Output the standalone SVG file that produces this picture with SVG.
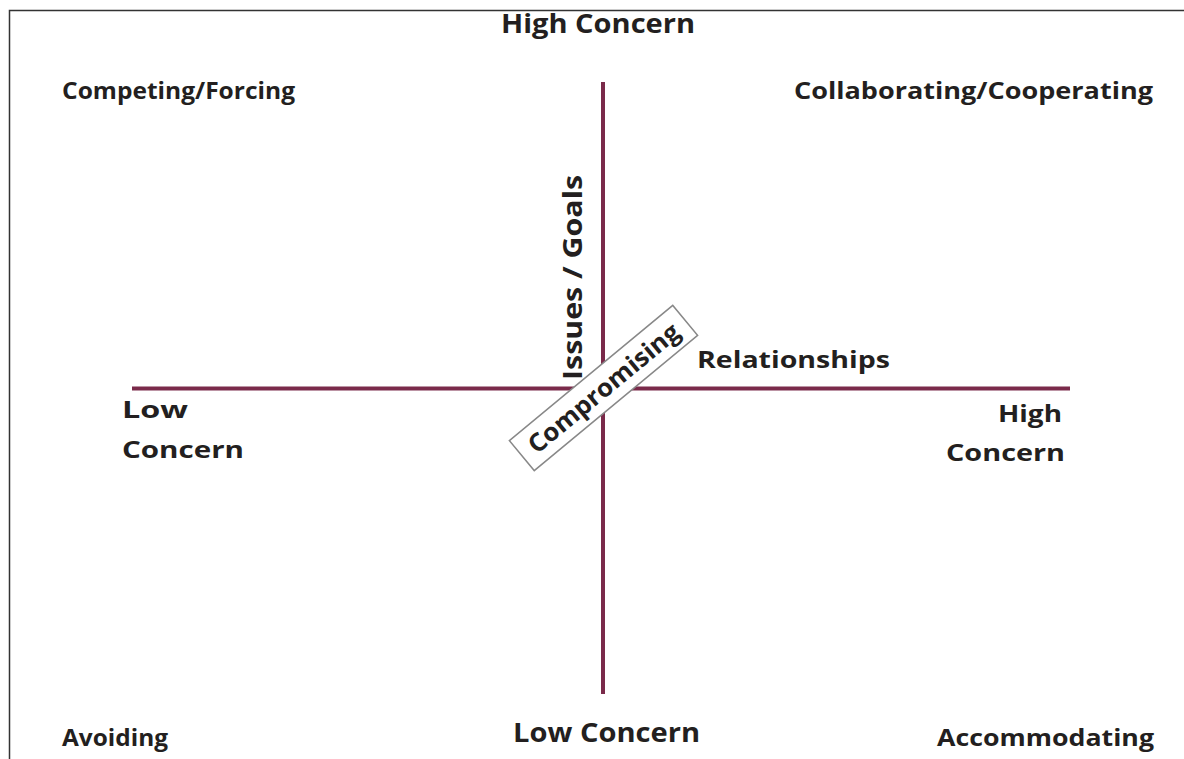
<svg xmlns="http://www.w3.org/2000/svg" width="1184" height="759" viewBox="0 0 1184 759">
<style>
.t{font-family:"Open Sans","DejaVu Sans",sans-serif;font-weight:700;fill:#231f20;font-size:24px}
.big{font-size:27px}
.axis{stroke:#7a2a4a;stroke-width:4;fill:none}
</style>
<rect x="0" y="0" width="1184" height="759" fill="#ffffff"/>
<path d="M9.5 759 V10.5 H1184" fill="none" stroke="#333" stroke-width="1.5"/>
<g id="connectors">
<line class="axis" x1="603" y1="82" x2="603" y2="694"/>
<line class="axis" x1="132" y1="388.5" x2="1070" y2="388.5"/>
</g>
<g id="high-top"><text class="t big" x="501" y="33" textLength="194" lengthAdjust="spacingAndGlyphs">High Concern</text></g>
<g id="low-bottom"><text class="t big" x="513" y="742" textLength="187" lengthAdjust="spacingAndGlyphs">Low Concern</text></g>
<g id="competing"><text class="t" x="62" y="99" textLength="233" lengthAdjust="spacingAndGlyphs">Competing/Forcing</text></g>
<g id="collaborating"><text class="t" x="794" y="99" textLength="359" lengthAdjust="spacingAndGlyphs">Collaborating/Cooperating</text></g>
<g id="avoiding"><text class="t" x="62" y="746" textLength="106" lengthAdjust="spacingAndGlyphs">Avoiding</text></g>
<g id="accommodating"><text class="t" x="937" y="746" textLength="217" lengthAdjust="spacingAndGlyphs">Accommodating</text></g>
<g id="issues"><text class="t big" transform="translate(582 380) rotate(-90)" textLength="205" lengthAdjust="spacingAndGlyphs">Issues / Goals</text></g>
<g id="relationships"><text class="t" x="697" y="368" textLength="193" lengthAdjust="spacingAndGlyphs">Relationships</text></g>
<g id="low-left"><text class="t" x="122" y="418" textLength="66" lengthAdjust="spacingAndGlyphs">Low</text><text class="t" x="122" y="458" textLength="122" lengthAdjust="spacingAndGlyphs">Concern</text></g>
<g id="high-right"><text class="t" x="998" y="422" textLength="64" lengthAdjust="spacingAndGlyphs">High</text><text class="t" x="946" y="461" textLength="119" lengthAdjust="spacingAndGlyphs">Concern</text></g>
<g id="compromising" transform="translate(603.5 388) rotate(-39.6)">
<rect x="-106" y="-19.5" width="212" height="39" fill="#fff" stroke="#888" stroke-width="1.5"/>
<text class="t" x="-94" y="9" textLength="188" lengthAdjust="spacingAndGlyphs" style="font-size:25px">Compromising</text>
</g>
</svg>
